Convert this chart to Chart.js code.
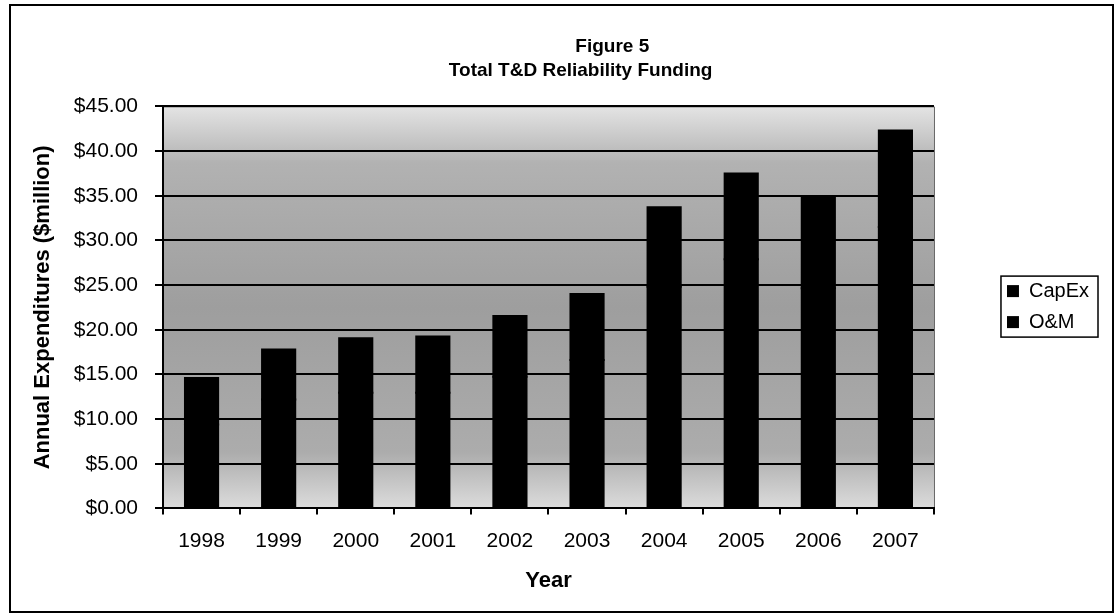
<!DOCTYPE html>
<html>
<head>
<meta charset="utf-8">
<script src="https://cdn.jsdelivr.net/npm/chart.js@4"></script>
<style>
  body { margin: 0; background: #fff; }
</style>
</head>
<body>
<canvas id="chart" width="1117" height="615"></canvas>
<script>
const years = ['1998', '1999', '2000', '2001', '2002', '2003', '2004', '2005', '2006', '2007'];
// the scan shows only the stacked total; the split between the two series is an estimate
const capex = [9.4, 12.2, 12.95, 12.95, 14.75, 16.6, 24.8, 27.9, 24.65, 31.5];
const om = [5.2, 5.6, 6.1, 6.3, 6.8, 7.4, 8.9, 9.6, 10.2, 10.8];
const yTicks = [0, 5, 10, 15, 20, 25, 30, 35, 40, 45];

const font = '"Liberation Sans", Arial, sans-serif';

// plot background and outer frame
const frame = {
  id: 'frame',
  beforeDraw(chart) {
    const c = chart.ctx;
    const a = chart.chartArea;
    const g = c.createLinearGradient(0, a.top, 0, a.bottom);
    g.addColorStop(0, '#e4e4e4');
    g.addColorStop(0.14, '#b2b2b2');
    g.addColorStop(0.5, '#9e9e9e');
    g.addColorStop(0.86, '#acacac');
    g.addColorStop(1, '#dcdcdc');
    c.save();
    c.fillStyle = g;
    c.fillRect(a.left, a.top, a.right - a.left, a.bottom - a.top);
    c.strokeStyle = '#666';
    c.lineWidth = 1;
    c.beginPath();
    c.moveTo(a.left, a.top + 0.5);
    c.lineTo(a.right + 0.5, a.top + 0.5);
    c.lineTo(a.right + 0.5, a.bottom);
    c.stroke();
    c.restore();
  },
  afterDraw(chart) {
    const c = chart.ctx;
    c.save();
    c.strokeStyle = '#000';
    c.lineWidth = 2;
    c.strokeRect(10, 5, 1103, 607);
    // box round the legend
    const boxes = chart.legend.legendHitBoxes;
    if (boxes.length) {
      const l = boxes[0].left - 6;
      const t = boxes[0].top - 5;
      const last = boxes[boxes.length - 1];
      const r = Math.max(...boxes.map(b => b.left + b.width)) + 9;
      const b = last.top + last.height + 5;
      c.lineWidth = 1.5;
      c.strokeRect(l, t, r - l, b - t);
    }
    c.restore();
  }
};

new Chart(document.getElementById('chart'), {
  type: 'bar',
  data: {
    labels: years,
    datasets: [
      { label: 'CapEx', data: capex, backgroundColor: '#000', borderColor: '#000', borderWidth: 0, inflateAmount: 1 },
      { label: 'O&M', data: om, backgroundColor: '#000', borderColor: '#000', borderWidth: 0, inflateAmount: 1 }
    ]
  },
  options: {
    responsive: false,
    animation: false,
    layout: { padding: { left: 20, right: 18, top: 0, bottom: 21 } },
    categoryPercentage: 1,
    barPercentage: 0.43,
    plugins: {
      title: {
        display: true,
        text: [' '.repeat(20) + 'Figure 5', ' '.repeat(8) + 'Total T&D Reliability Funding'],
        color: '#000',
        font: { family: font, size: 19, weight: 'bold', lineHeight: 1.3 },
        padding: { top: 34, bottom: 23 }
      },
      legend: {
        position: 'right',
        title: { display: true, text: '', font: { size: 1 }, padding: { top: 9, bottom: 9 } },
        labels: {
          color: '#000',
          font: { family: font, size: 20 },
          boxWidth: 12,
          boxHeight: 12,
          padding: 11
        }
      },
      tooltip: { enabled: false }
    },
    scales: {
      x: {
        stacked: true,
        grid: { offset: true, drawOnChartArea: false, color: '#000', lineWidth: 2, tickLength: 6 },
        border: { color: '#000', width: 2 },
        ticks: { color: '#000', font: { family: font, size: 21 }, padding: 14, maxRotation: 0 },
        title: {
          display: true, text: 'Year', color: '#000',
          font: { family: font, size: 22, weight: 'bold' },
          padding: { top: 0, bottom: 0 }
        }
      },
      y: {
        stacked: true,
        min: 0,
        max: 45,
        afterFit(s) { s.width = 143; },
        afterBuildTicks(s) { s.ticks = yTicks.map(v => ({ value: v })); },
        grid: { color: '#000', lineWidth: 2, tickLength: 8 },
        border: { color: '#000', width: 2 },
        ticks: {
          color: '#000',
          font: { family: font, size: 21 },
          padding: 17,
          callback: v => '$' + v.toFixed(2)
        },
        title: {
          display: true, text: 'Annual Expenditures ($million)', color: '#000',
          font: { family: font, size: 22, weight: 'bold' },
          padding: { top: 10, bottom: 0 }
        }
      },
      gap: {
        type: 'linear',
        position: 'right',
        display: true,
        grid: { display: false },
        border: { display: false },
        ticks: { display: false },
        afterFit(s) { s.width = 62; }
      }
    }
  },
  plugins: [frame]
});
</script>
</body>
</html>
